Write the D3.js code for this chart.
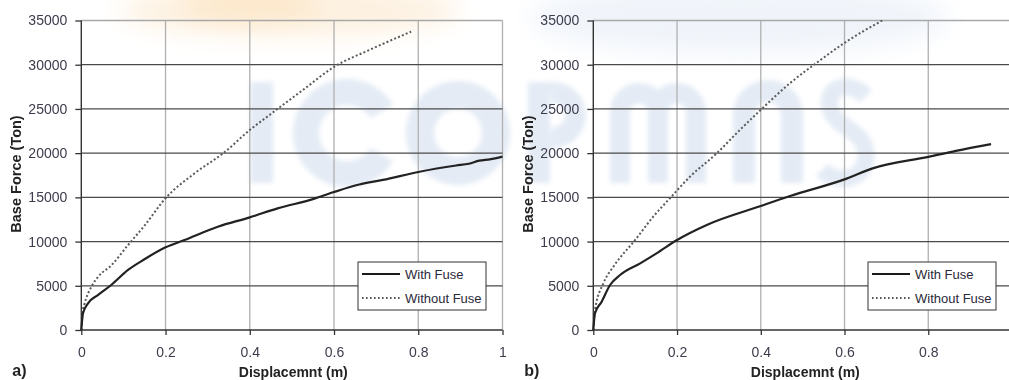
<!DOCTYPE html>
<html><head><meta charset="utf-8">
<script src="https://cdn.jsdelivr.net/npm/d3@7"></script>
<style>body{margin:0;background:#fff;}svg{display:block;font-family:Arial,"Liberation Sans",sans-serif;}</style>
</head><body>
<svg id="c" width="1009" height="380"></svg>
<script>
// ---- data ----
const xTicks = [0, 0.2, 0.4, 0.6, 0.8, 1];
const yTicks = [0, 5000, 10000, 15000, 20000, 25000, 30000, 35000];
const seriesNames = ["With Fuse", "Without Fuse"];

// panel a)
const aWithX = [0, 0.004, 0.016, 0.04, 0.071, 0.111, 0.15, 0.2, 0.245, 0.324, 0.4, 0.466, 0.55, 0.6, 0.66, 0.716, 0.803, 0.89, 0.92, 0.945, 0.97, 1.0];
const aWithY = [0, 1890, 3020, 3960, 5090, 6790, 8000, 9350, 10180, 11680, 12740, 13760, 14800, 15600, 16450, 16970, 17900, 18600, 18800, 19150, 19300, 19600];
const aWithoutX = [0, 0.003, 0.008, 0.024, 0.04, 0.071, 0.111, 0.15, 0.2, 0.269, 0.34, 0.4, 0.447, 0.526, 0.601, 0.684, 0.783];
const aWithoutY = [0, 2000, 3020, 4900, 6030, 7300, 9610, 11800, 14900, 17720, 20100, 22620, 24320, 27140, 29780, 31670, 33740];

// panel b)
const bWithX = [0, 0.004, 0.02, 0.04, 0.064, 0.112, 0.151, 0.2, 0.271, 0.4, 0.47, 0.605, 0.667, 0.8, 0.866, 0.95];
const bWithY = [0, 1890, 3200, 5090, 6220, 7540, 8670, 10180, 11880, 14020, 15150, 17120, 18280, 19580, 20260, 21020];
const bWithoutX = [0, 0.004, 0.024, 0.048, 0.1, 0.143, 0.183, 0.231, 0.295, 0.35, 0.4, 0.47, 0.533, 0.6, 0.69];
const bWithoutY = [0, 2260, 5280, 7160, 10180, 12810, 14900, 17340, 19990, 22620, 24900, 27920, 30200, 32470, 35000];

const panels = [
  {label: "a)", x0: 81.3, x1: 502.5, withX: aWithX, withY: aWithY, woX: aWithoutX, woY: aWithoutY, legendX: 358, xTickMax: 1, gridRight: 502.5},
  {label: "b)", x0: 593.3, x1: 1012, withX: bWithX, withY: bWithY, woX: bWithoutX, woY: bWithoutY, legendX: 868, xTickMax: 0.8, gridRight: 1009}
];

const svg = d3.select("#c");
const FONT = "Arial, Liberation Sans, sans-serif";

// ---- faint background logo (image-like decoration) ----
const defs = svg.append("defs");
const f = defs.append("filter").attr("id","blur").attr("x","-50%").attr("y","-50%").attr("width","200%").attr("height","200%");
f.append("feGaussianBlur").attr("stdDeviation", 12);
const f2 = defs.append("filter").attr("id","soft").attr("x","-20%").attr("y","-20%").attr("width","140%").attr("height","140%");
f2.append("feGaussianBlur").attr("stdDeviation", 2.5);
const bg = svg.append("g");
bg.append("ellipse").attr("cx", 290).attr("cy", 10).attr("rx", 170).attr("ry", 26)
  .attr("fill", "#fdf1e0").attr("filter", "url(#blur)");
bg.append("ellipse").attr("cx", 250).attr("cy", 4).attr("rx", 70).attr("ry", 16)
  .attr("fill", "#fce3bf").attr("filter", "url(#blur)").attr("opacity", 0.7);
bg.append("ellipse").attr("cx", 740).attr("cy", 18).attr("rx", 210).attr("ry", 36)
  .attr("fill", "#f0f4fa").attr("filter", "url(#blur)");
const logo = bg.append("g").attr("fill", "#e4ebf5").attr("stroke", "#e4ebf5").attr("filter", "url(#soft)");
const arc = d3.arc();
// I
logo.append("rect").attr("x", 250).attr("y", 82).attr("width", 23).attr("height", 101).attr("stroke", "none");
// C
logo.append("path").attr("transform", "translate(347,133)").attr("stroke", "none")
  .attr("d", arc({innerRadius: 28, outerRadius: 54, startAngle: Math.PI / 2 + 0.55, endAngle: Math.PI * 2.5 - 0.55}));
// O
logo.append("path").attr("transform", "translate(458,133)").attr("stroke", "none")
  .attr("d", arc({innerRadius: 24, outerRadius: 52, startAngle: 0, endAngle: Math.PI * 2}));
// P
logo.append("rect").attr("x", 528).attr("y", 82).attr("width", 22).attr("height", 101).attr("stroke", "none");
logo.append("path").attr("transform", "translate(553,115)").attr("stroke", "none")
  .attr("d", arc({innerRadius: 12, outerRadius: 33, startAngle: -0.1, endAngle: Math.PI + 0.1}));
// M (two arches)
logo.append("path").attr("fill", "none").attr("stroke-width", 20)
  .attr("d", "M620,183 V112 A19,19 0 0 1 658,112 V183 M658,112 A19,19 0 0 1 696,112 V183");
// A
logo.append("path").attr("fill", "none").attr("stroke-width", 22)
  .attr("d", "M744,183 V115 A24,24 0 0 1 792,115 V183");
// S
logo.append("path").attr("fill", "none").attr("stroke-width", 17)
  .attr("d", "M866,96 C850,80 825,86 830,108 C835,128 866,130 866,155 C866,182 836,184 822,170");

const yTop = 20.5, yBot = 330;
const y = d3.scaleLinear().domain([0, 35000]).range([yBot, yTop]);

panels.forEach(p => {
  const x = d3.scaleLinear().domain([0, 1]).range([p.x0, p.x1]);
  const g = svg.append("g");

  // vertical gridlines
  g.selectAll(".vg").data(xTicks.filter(t => t > 0)).enter().append("line")
    .attr("x1", d => x(d)).attr("x2", d => x(d)).attr("y1", yTop).attr("y2", yBot)
    .attr("stroke", "#b0b0b0").attr("stroke-width", 1.3);
  // horizontal gridlines
  g.selectAll(".hg").data(yTicks.filter(t => t > 0)).enter().append("line")
    .attr("x1", p.x0).attr("x2", p.gridRight).attr("y1", d => y(d)).attr("y2", d => y(d))
    .attr("stroke", d => d === 35000 ? "#a8a8a8" : "#4a4a4a").attr("stroke-width", 1.3);

  // axes
  const yAxis = d3.axisLeft(y).tickValues(yTicks).tickSize(6).tickPadding(8).tickFormat(d3.format("d"));
  const ya = g.append("g").attr("transform", `translate(${p.x0},0)`).call(yAxis);
  const xAxis = d3.axisBottom(x).tickValues(xTicks.filter(t => t <= p.xTickMax)).tickSize(5).tickPadding(12)
    .tickFormat(d => d === 0 ? "0" : d === 1 ? "1" : d3.format(".1f")(d));
  const xa = g.append("g").attr("transform", `translate(0,${yBot})`).call(xAxis);
  [ya, xa].forEach(a => {
    a.select(".domain").attr("stroke", "#333").attr("stroke-width", 1.4);
    a.selectAll(".tick line").attr("stroke", "#333").attr("stroke-width", 1.3);
    a.selectAll("text").attr("font-size", 14).attr("fill", "#3c3c4c").attr("font-family", FONT);
  });
  xa.select(".domain").attr("d", `M${p.x0},0H${p.gridRight}`);
  ya.select(".domain").attr("d", `M0,${yTop}V${yBot}`);

  // axis titles
  g.append("text").attr("transform", `translate(${p.x0 - 60},${174}) rotate(-90)`)
    .attr("text-anchor", "middle").attr("font-size", 14.5).attr("font-weight", "bold").attr("fill", "#222")
    .attr("font-family", FONT).text("Base Force (Ton)");
  g.append("text").attr("x", p.x0 + 212).attr("y", 376.5)
    .attr("text-anchor", "middle").attr("font-size", 14).attr("font-weight", "bold").attr("fill", "#222")
    .attr("font-family", FONT).text("Displacemnt (m)");
  g.append("text").attr("x", p.x0 - 69).attr("y", 376)
    .attr("font-size", 16).attr("font-weight", "bold").attr("fill", "#222")
    .attr("font-family", FONT).text(p.label);

  // lines
  const clipId = "clip" + p.label[0];
  defs.append("clipPath").attr("id", clipId).append("rect")
    .attr("x", p.x0).attr("y", yTop - 1).attr("width", p.x1 - p.x0 + 5).attr("height", yBot - yTop + 2);
  const line = d3.line().x(d => x(d[0])).y(d => y(d[1])).curve(d3.curveMonotoneX);
  const wo = p.woX.map((v, i) => [v, p.woY[i]]);
  const wi = p.withX.map((v, i) => [v, p.withY[i]]);
  g.append("path").attr("d", line(wo)).attr("fill", "none").attr("clip-path", `url(#${clipId})`)
    .attr("stroke", "#5a5a5a").attr("stroke-width", 2).attr("stroke-dasharray", "2,2.2");
  g.append("path").attr("d", line(wi)).attr("fill", "none")
    .attr("stroke", "#222").attr("stroke-width", 2.2);

  // legend
  const lg = g.append("g").attr("transform", `translate(${p.legendX},262)`);
  lg.append("rect").attr("width", 128).attr("height", 48).attr("fill", "#fff").attr("stroke", "#333").attr("stroke-width", 1);
  seriesNames.forEach((n, i) => {
    const yy = 12 + i * 24;
    lg.append("line").attr("x1", 4).attr("x2", 42).attr("y1", yy).attr("y2", yy)
      .attr("stroke", i === 0 ? "#1a1a1a" : "#555").attr("stroke-width", i === 0 ? 2.2 : 1.8)
      .attr("stroke-dasharray", i === 0 ? null : "1.6,2.4");
    lg.append("text").attr("x", 47).attr("y", yy + 5).attr("font-size", 13).attr("fill", "#2a2a3a")
      .attr("font-family", FONT).text(n);
  });
});
</script>
</body></html>
